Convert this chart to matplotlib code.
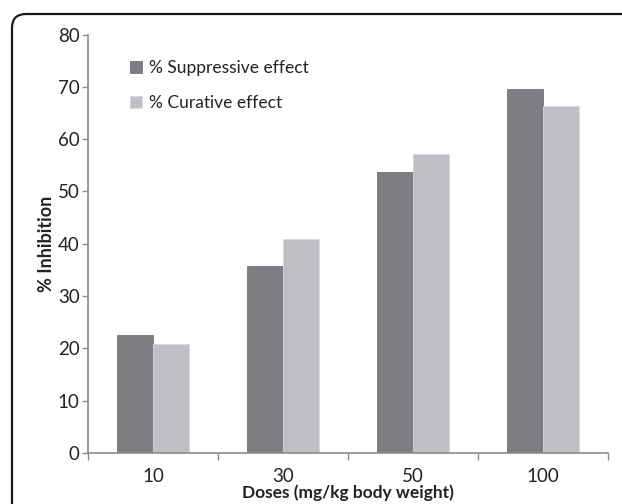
import numpy as np
import matplotlib
matplotlib.use("Agg")
import matplotlib.pyplot as plt
from matplotlib.patches import FancyBboxPatch
from matplotlib.transforms import IdentityTransform

doses = ['10', '30', '50', '100']
suppressive = [22.6, 35.8, 53.7, 69.5]
curative = [20.8, 40.9, 57.2, 66.3]
series_names = ['% Suppressive effect', '% Curative effect']

matplotlib.rcParams['font.family'] = ['Lato', 'DejaVu Sans']

fig = plt.figure(figsize=(6.22, 5.04), dpi=100)
ax = fig.add_axes([88 / 622, 51 / 504, 520 / 622, 418.5 / 504])

x = np.arange(len(doses))
w = 0.28
ax.bar(x - w / 2, suppressive, w, color='#7e7e82', edgecolor='#747478', linewidth=0.6, label=series_names[0])
ax.bar(x + w / 2, curative, w, color='#bebfc3', edgecolor='#d8d9dc', linewidth=0.6, label=series_names[1])

ax.set_xlim(-0.5, len(doses) - 0.5)
ax.set_ylim(0, 80)
ax.set_yticks(np.arange(0, 81, 10))
ax.set_xticks(x)
ax.set_xticklabels(doses)
ax.set_xticks(np.arange(len(doses) + 1) - 0.5, minor=True)

axis_col = '#8c8c8c'
for side in ['top', 'right']:
    ax.spines[side].set_visible(False)
for side in ['left', 'bottom']:
    ax.spines[side].set_color(axis_col)
    ax.spines[side].set_linewidth(1.2)

ax.tick_params(axis='x', which='major', length=0, labelsize=13.5, pad=10.5, labelcolor='#222222')
ax.tick_params(axis='x', which='minor', length=5, color=axis_col, width=1)
ax.tick_params(axis='y', length=4, color=axis_col, width=1, labelsize=13.5, pad=2, labelcolor='#222222')

ax.set_xlabel('Doses (mg/kg body weight)', fontsize=12.5, fontweight='bold', labelpad=0, color='#222222')
ax.set_ylabel('% Inhibition', fontsize=13, fontweight='bold', labelpad=2, color='#222222')

leg = ax.legend(loc='upper left', bbox_to_anchor=(42 / 520, 0.94), frameon=False, fontsize=12.5,
                borderpad=0, borderaxespad=0,
                handlelength=0.69, handleheight=0.69, handletextpad=0.4, labelspacing=1.1)
for t in leg.get_texts():
    t.set_color('#222222')

# rounded frame around the figure panel
frame = FancyBboxPatch((12, -40), 660, 530, boxstyle='round,pad=0,rounding_size=14',
                       transform=IdentityTransform(), fill=False, edgecolor='#1a1a1a', linewidth=1.6)
fig.add_artist(frame)

fig.savefig('out.png', dpi=100)
